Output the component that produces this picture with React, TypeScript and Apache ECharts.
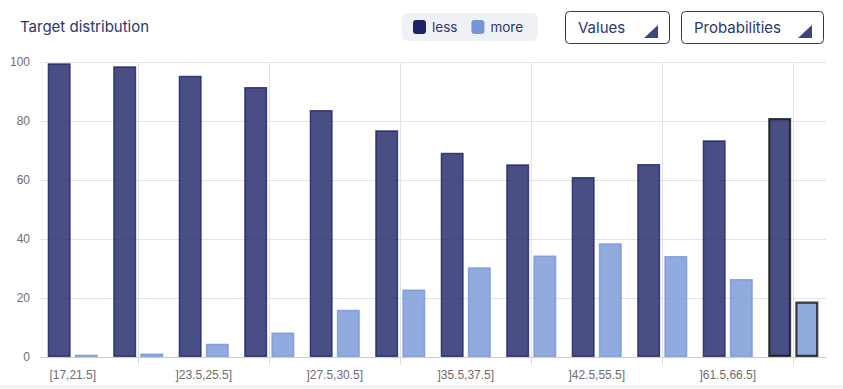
import React, { useEffect, useRef } from "react";
import * as echarts from "echarts";

const categories = [
  "[17,21.5]",
  "]21.5,23.5]",
  "]23.5,25.5]",
  "]25.5,27.5]",
  "]27.5,30.5]",
  "]30.5,35.5]",
  "]35.5,37.5]",
  "]37.5,42.5]",
  "]42.5,55.5]",
  "]55.5,61.5]",
  "]61.5,66.5]",
  "]66.5,90]",
];
const lessValues = [99.6, 98.6, 95.3, 91.5, 83.7, 76.9, 69.2, 65.3, 61.0, 65.4, 73.5, 81.0];
const moreValues = [0.8, 1.2, 4.5, 8.3, 16.0, 22.9, 30.4, 34.4, 38.6, 34.2, 26.4, 18.8];
const highlightIndex = 11;
const seriesNames = ["less", "more"];
const titleText = "Target distribution";
const dropdownLabels = ["Values", "Probabilities"];

const NAVY = "#1b2366";
const LIGHT = "#7596d6";
const TEXT = "#2c3670";
const FONT = "Inter, 'Open Sans', sans-serif";

export default function App() {
  const ref = useRef<HTMLDivElement>(null);
  useEffect(() => {
    if (!ref.current) return;
    const chart = echarts.init(ref.current, null, { renderer: "svg" });
    const mk = (vals: number[]) =>
      vals.map((v, i) =>
        i === highlightIndex
          ? { value: v, itemStyle: { borderColor: "#111111", borderWidth: 2.2 } }
          : v
      );
    const dropdown = (x: number, w: number, label: string) => ({
      type: "group",
      x,
      y: 11,
      children: [
        {
          type: "rect",
          shape: { x: 0.5, y: 0.5, width: w, height: 32, r: 4 },
          style: { fill: "#fff", stroke: TEXT, lineWidth: 1 },
        },
        {
          type: "text",
          x: 13,
          y: 16.5,
          style: {
            text: label,
            fill: TEXT,
            font: `400 15px ${FONT}`,
            textVerticalAlign: "middle",
          },
        },
        {
          type: "polygon",
          shape: {
            points: [
              [w - 11, 14],
              [w - 11, 27],
              [w - 25, 27],
            ],
          },
          style: { fill: "#3d477c" },
        },
      ],
    });
    chart.setOption({
      animation: false,
      backgroundColor: "#ffffff",
      grid: { left: 40, right: 17, top: 62, bottom: 32 },
      legend: {
        data: seriesNames,
        left: 402,
        top: 13,
        padding: [7, 15, 7, 11],
        backgroundColor: "#f0f1f4",
        borderRadius: 6,
        itemWidth: 13,
        itemHeight: 14,
        itemGap: 14,
        icon: "roundRect",
        itemStyle: { opacity: 1, borderWidth: 0 },
        textStyle: { color: TEXT, fontSize: 13.5, fontFamily: FONT, padding: [0, 0, 0, 1] },
      },
      graphic: [
        {
          type: "text",
          left: 20,
          top: 19,
          style: { text: titleText, fill: TEXT, font: `400 15px ${FONT}` },
        },
        dropdown(565, 104, dropdownLabels[0]),
        dropdown(681, 142, dropdownLabels[1]),
        {
          type: "rect",
          left: 0,
          bottom: 0,
          shape: { width: 843, height: 4 },
          style: { fill: "#f4f4f6" },
        },
      ],
      xAxis: {
        type: "category",
        data: categories,
        axisLine: { lineStyle: { color: "#cccccc" } },
        axisTick: {
          show: true,
          alignWithLabel: true,
          interval: (i: number) => i % 2 === 1,
          length: 8,
          lineStyle: { color: "#dddddd" },
        },
        splitLine: {
          show: true,
          alignWithLabel: true,
          interval: (i: number) => i % 2 === 1,
          lineStyle: { color: "#e3e3e3" },
        },
        axisLabel: {
          interval: 1,
          color: "#6e6e6e",
          fontSize: 12,
          fontFamily: "'Liberation Sans', Arial, sans-serif",
          margin: 12,
        },
      },
      yAxis: {
        type: "value",
        min: 0,
        max: 100,
        interval: 20,
        axisLine: { show: false },
        axisTick: { show: false },
        splitLine: { lineStyle: { color: "#e3e3e3" } },
        axisLabel: {
          color: "#6e6e6e",
          fontSize: 12,
          fontFamily: "'Liberation Sans', Arial, sans-serif",
          margin: 10,
        },
      },
      series: [
        {
          name: seriesNames[0],
          type: "bar",
          data: mk(lessValues),
          barWidth: 23,
          barGap: "18%",
          itemStyle: {
            color: NAVY,
            opacity: 0.8,
            borderColor: NAVY,
            borderWidth: 1.5,
          },
        },
        {
          name: seriesNames[1],
          type: "bar",
          data: mk(moreValues),
          barWidth: 23,
          itemStyle: {
            color: LIGHT,
            opacity: 0.8,
            borderColor: LIGHT,
            borderWidth: 1.5,
          },
        },
      ],
    });
    return () => chart.dispose();
  }, []);
  return (
    <div
      ref={ref}
      style={{ position: "fixed", left: 0, top: 0, width: 843, height: 389 }}
    />
  );
}
